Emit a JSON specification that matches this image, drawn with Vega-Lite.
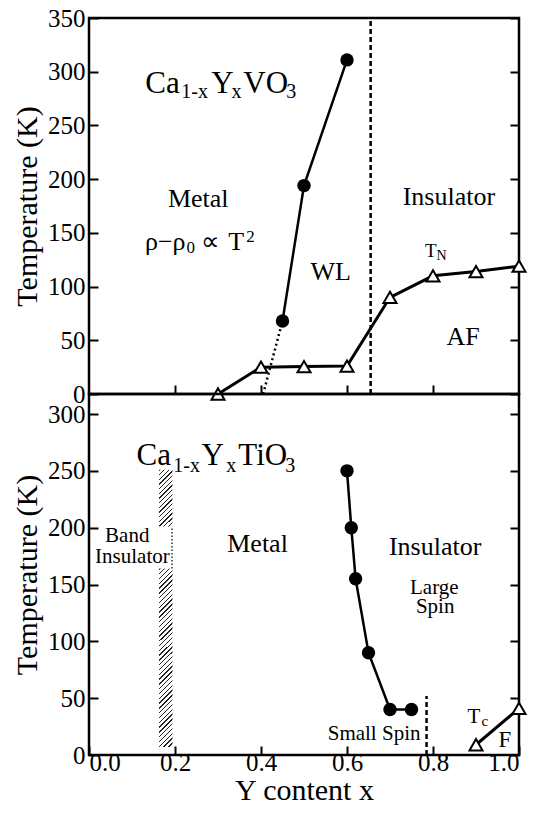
{
  "$schema": "https://vega.github.io/schema/vega-lite/v6.json",
  "padding": {"left": 11, "top": 4, "right": 5, "bottom": 5},
  "spacing": 0,
  "bounds": "flush",
  "config": {
    "font": "Liberation Serif",
    "view": {"stroke": "black", "strokeWidth": 2.5},
    "axis": {
      "labelFont": "Liberation Serif", "labelFontSize": 25, "labelColor": "black",
      "titleFont": "Liberation Serif", "titleFontSize": 30, "titleFontWeight": "normal", "titleColor": "black",
      "tickColor": "black", "tickWidth": 2, "domain": false
    },
    "text": {"font": "Liberation Serif", "color": "black"}
  },
  "vconcat": [
    {
      "width": 430, "height": 376,
      "encoding": {
        "x": {"field": "x", "type": "quantitative", "scale": {"domain": [0, 1], "nice": false},
              "axis": {"values": [0.2, 0.4, 0.6, 0.8], "labels": false, "title": null, "tickSize": -9, "grid": false}},
        "y": {"field": "T", "type": "quantitative", "scale": {"domain": [0, 350], "nice": false},
              "axis": {"values": [0, 50, 100, 150, 200, 250, 300, 350], "title": "Temperature (K)", "ticks": false,
                       "grid": true, "gridDash": [9, 412], "gridColor": "black", "gridWidth": 2, "gridOpacity": 1,
                       "labelPadding": 4, "titlePadding": 5}}
      },
      "layer": [
        {"data": {"values": [{"x": 0.655, "T": 0, "T2": 350}]},
         "mark": {"type": "rule", "strokeDash": [5, 3], "strokeWidth": 2.5, "color": "black"},
         "encoding": {"y2": {"field": "T2"}}},
        {"data": {"values": [{"x": 0.405, "T": 0}, {"x": 0.45, "T": 68}]},
         "mark": {"type": "line", "strokeDash": [2, 3], "strokeWidth": 2.5, "color": "black"}},
        {"data": {"values": [{"x": 0.45, "T": 68}, {"x": 0.5, "T": 194}, {"x": 0.6, "T": 311}]},
         "mark": {"type": "line", "strokeWidth": 2.5, "color": "black"}},
        {"data": {"values": [{"x": 0.45, "T": 68}, {"x": 0.5, "T": 194}, {"x": 0.6, "T": 311}]},
         "mark": {"type": "point", "shape": "circle", "filled": true, "size": 180, "color": "black", "opacity": 1}},
        {"data": {"values": [{"x": 0.3, "T": 0}, {"x": 0.4, "T": 25}, {"x": 0.5, "T": 25.5}, {"x": 0.6, "T": 26}, {"x": 0.7, "T": 90}, {"x": 0.8, "T": 110}, {"x": 0.9, "T": 114}, {"x": 1.0, "T": 119}]},
         "mark": {"type": "line", "strokeWidth": 3, "color": "black"}},
        {"data": {"values": [{"x": 0.3, "T": 0}, {"x": 0.4, "T": 25}, {"x": 0.5, "T": 25.5}, {"x": 0.6, "T": 26}, {"x": 0.7, "T": 90}, {"x": 0.8, "T": 110}, {"x": 0.9, "T": 114}, {"x": 1.0, "T": 119}]},
         "mark": {"type": "point", "shape": "triangle-up", "filled": true, "fill": "white", "stroke": "black", "strokeWidth": 2, "size": 170, "opacity": 1, "clip": false}},
        {"data": {"values": [{"x": 0.254, "T": 174, "text": "Metal"}, {"x": 0.562, "T": 106, "text": "WL"}, {"x": 0.837, "T": 176, "text": "Insulator"}, {"x": 0.870, "T": 46, "text": "AF"}]},
         "mark": {"type": "text", "align": "center", "baseline": "alphabetic", "fontSize": 26},
         "encoding": {"text": {"field": "text"}}},
        {"data": {"values": [{"x": 0.1309, "T": 280.2, "text": "Ca"}, {"x": 0.2844, "T": 280.2, "text": "Y"}, {"x": 0.3588, "T": 280.2, "text": "VO"}]},
         "mark": {"type": "text", "align": "left", "baseline": "alphabetic", "fontSize": 31},
         "encoding": {"text": {"field": "text"}}},
        {"data": {"values": [{"x": 0.2147, "T": 275.6, "text": "1-x"}, {"x": 0.3312, "T": 275.6, "text": "x"}, {"x": 0.4588, "T": 275.6, "text": "3"}]},
         "mark": {"type": "text", "align": "left", "baseline": "alphabetic", "fontSize": 20},
         "encoding": {"text": {"field": "text"}}},
        {"data": {"values": [{"x": 0.1302, "T": 133.9, "text": "ρ−ρ"}, {"x": 0.2612, "T": 133.9, "text": "∝"}, {"x": 0.324, "T": 133.9, "text": "T"}]},
         "mark": {"type": "text", "align": "left", "baseline": "alphabetic", "fontSize": 26},
         "encoding": {"text": {"field": "text"}}},
        {"data": {"values": [{"x": 0.227, "T": 130.8, "text": "0"}, {"x": 0.3658, "T": 141.6, "text": "2"}]},
         "mark": {"type": "text", "align": "left", "baseline": "alphabetic", "fontSize": 17},
         "encoding": {"text": {"field": "text"}}},
        {"data": {"values": [{"x": 0.7814, "T": 127.7, "text": "T"}]},
         "mark": {"type": "text", "align": "left", "baseline": "alphabetic", "fontSize": 19},
         "encoding": {"text": {"field": "text"}}},
        {"data": {"values": [{"x": 0.8084, "T": 124.6, "text": "N"}]},
         "mark": {"type": "text", "align": "left", "baseline": "alphabetic", "fontSize": 14},
         "encoding": {"text": {"field": "text"}}}
      ]
    },
    {
      "width": 430, "height": 361,
      "encoding": {
        "x": {"field": "x", "type": "quantitative", "scale": {"domain": [0, 1], "nice": false},
              "axis": {"values": [0, 0.2, 0.4, 0.6, 0.8, 1.0], "format": ".1f", "title": "Y content x", "tickSize": -9,
                       "labelPadding": 4, "titlePadding": 0, "grid": false}},
        "y": {"field": "T", "type": "quantitative", "scale": {"domain": [0, 317.6], "nice": false},
              "axis": {"values": [0, 50, 100, 150, 200, 250, 300], "title": "Temperature (K)", "ticks": false,
                       "grid": true, "gridDash": [9, 412], "gridColor": "black", "gridWidth": 2, "gridOpacity": 1,
                       "labelPadding": 4, "titlePadding": 5}}
      },
      "layer": [
        {"data": {"values": [{"x": 0.163, "x2": 0.194, "T": 7, "T2": 164}]},
         "mark": {"type": "rect", "fill": {"gradient": "linear", "x1": 0, "y1": 0, "x2": 0.0796, "y2": 1.0687, "stops": [
           {"offset": 0, "color": "#222"}, {"offset": 0.0073, "color": "#222"}, {"offset": 0.0073, "color": "white"}, {"offset": 0.025, "color": "white"},
           {"offset": 0.025, "color": "#222"}, {"offset": 0.0323, "color": "#222"}, {"offset": 0.0323, "color": "white"}, {"offset": 0.05, "color": "white"},
           {"offset": 0.05, "color": "#222"}, {"offset": 0.0573, "color": "#222"}, {"offset": 0.0573, "color": "white"}, {"offset": 0.075, "color": "white"},
           {"offset": 0.075, "color": "#222"}, {"offset": 0.0823, "color": "#222"}, {"offset": 0.0823, "color": "white"}, {"offset": 0.1, "color": "white"},
           {"offset": 0.1, "color": "#222"}, {"offset": 0.1073, "color": "#222"}, {"offset": 0.1073, "color": "white"}, {"offset": 0.125, "color": "white"},
           {"offset": 0.125, "color": "#222"}, {"offset": 0.1323, "color": "#222"}, {"offset": 0.1323, "color": "white"}, {"offset": 0.15, "color": "white"},
           {"offset": 0.15, "color": "#222"}, {"offset": 0.1573, "color": "#222"}, {"offset": 0.1573, "color": "white"}, {"offset": 0.175, "color": "white"},
           {"offset": 0.175, "color": "#222"}, {"offset": 0.1823, "color": "#222"}, {"offset": 0.1823, "color": "white"}, {"offset": 0.2, "color": "white"},
           {"offset": 0.2, "color": "#222"}, {"offset": 0.2073, "color": "#222"}, {"offset": 0.2073, "color": "white"}, {"offset": 0.225, "color": "white"},
           {"offset": 0.225, "color": "#222"}, {"offset": 0.2323, "color": "#222"}, {"offset": 0.2323, "color": "white"}, {"offset": 0.25, "color": "white"},
           {"offset": 0.25, "color": "#222"}, {"offset": 0.2573, "color": "#222"}, {"offset": 0.2573, "color": "white"}, {"offset": 0.275, "color": "white"},
           {"offset": 0.275, "color": "#222"}, {"offset": 0.2823, "color": "#222"}, {"offset": 0.2823, "color": "white"}, {"offset": 0.3, "color": "white"},
           {"offset": 0.3, "color": "#222"}, {"offset": 0.3073, "color": "#222"}, {"offset": 0.3073, "color": "white"}, {"offset": 0.325, "color": "white"},
           {"offset": 0.325, "color": "#222"}, {"offset": 0.3323, "color": "#222"}, {"offset": 0.3323, "color": "white"}, {"offset": 0.35, "color": "white"},
           {"offset": 0.35, "color": "#222"}, {"offset": 0.3573, "color": "#222"}, {"offset": 0.3573, "color": "white"}, {"offset": 0.375, "color": "white"},
           {"offset": 0.375, "color": "#222"}, {"offset": 0.3823, "color": "#222"}, {"offset": 0.3823, "color": "white"}, {"offset": 0.4, "color": "white"},
           {"offset": 0.4, "color": "#222"}, {"offset": 0.4073, "color": "#222"}, {"offset": 0.4073, "color": "white"}, {"offset": 0.425, "color": "white"},
           {"offset": 0.425, "color": "#222"}, {"offset": 0.4323, "color": "#222"}, {"offset": 0.4323, "color": "white"}, {"offset": 0.45, "color": "white"},
           {"offset": 0.45, "color": "#222"}, {"offset": 0.4573, "color": "#222"}, {"offset": 0.4573, "color": "white"}, {"offset": 0.475, "color": "white"},
           {"offset": 0.475, "color": "#222"}, {"offset": 0.4823, "color": "#222"}, {"offset": 0.4823, "color": "white"}, {"offset": 0.5, "color": "white"},
           {"offset": 0.5, "color": "#222"}, {"offset": 0.5073, "color": "#222"}, {"offset": 0.5073, "color": "white"}, {"offset": 0.525, "color": "white"},
           {"offset": 0.525, "color": "#222"}, {"offset": 0.5323, "color": "#222"}, {"offset": 0.5323, "color": "white"}, {"offset": 0.55, "color": "white"},
           {"offset": 0.55, "color": "#222"}, {"offset": 0.5573, "color": "#222"}, {"offset": 0.5573, "color": "white"}, {"offset": 0.575, "color": "white"},
           {"offset": 0.575, "color": "#222"}, {"offset": 0.5823, "color": "#222"}, {"offset": 0.5823, "color": "white"}, {"offset": 0.6, "color": "white"},
           {"offset": 0.6, "color": "#222"}, {"offset": 0.6073, "color": "#222"}, {"offset": 0.6073, "color": "white"}, {"offset": 0.625, "color": "white"},
           {"offset": 0.625, "color": "#222"}, {"offset": 0.6323, "color": "#222"}, {"offset": 0.6323, "color": "white"}, {"offset": 0.65, "color": "white"},
           {"offset": 0.65, "color": "#222"}, {"offset": 0.6573, "color": "#222"}, {"offset": 0.6573, "color": "white"}, {"offset": 0.675, "color": "white"},
           {"offset": 0.675, "color": "#222"}, {"offset": 0.6823, "color": "#222"}, {"offset": 0.6823, "color": "white"}, {"offset": 0.7, "color": "white"},
           {"offset": 0.7, "color": "#222"}, {"offset": 0.7073, "color": "#222"}, {"offset": 0.7073, "color": "white"}, {"offset": 0.725, "color": "white"},
           {"offset": 0.725, "color": "#222"}, {"offset": 0.7323, "color": "#222"}, {"offset": 0.7323, "color": "white"}, {"offset": 0.75, "color": "white"},
           {"offset": 0.75, "color": "#222"}, {"offset": 0.7573, "color": "#222"}, {"offset": 0.7573, "color": "white"}, {"offset": 0.775, "color": "white"},
           {"offset": 0.775, "color": "#222"}, {"offset": 0.7823, "color": "#222"}, {"offset": 0.7823, "color": "white"}, {"offset": 0.8, "color": "white"},
           {"offset": 0.8, "color": "#222"}, {"offset": 0.8073, "color": "#222"}, {"offset": 0.8073, "color": "white"}, {"offset": 0.825, "color": "white"},
           {"offset": 0.825, "color": "#222"}, {"offset": 0.8323, "color": "#222"}, {"offset": 0.8323, "color": "white"}, {"offset": 0.85, "color": "white"},
           {"offset": 0.85, "color": "#222"}, {"offset": 0.8573, "color": "#222"}, {"offset": 0.8573, "color": "white"}, {"offset": 0.875, "color": "white"},
           {"offset": 0.875, "color": "#222"}, {"offset": 0.8823, "color": "#222"}, {"offset": 0.8823, "color": "white"}, {"offset": 0.9, "color": "white"},
           {"offset": 0.9, "color": "#222"}, {"offset": 0.9073, "color": "#222"}, {"offset": 0.9073, "color": "white"}, {"offset": 0.925, "color": "white"},
           {"offset": 0.925, "color": "#222"}, {"offset": 0.9323, "color": "#222"}, {"offset": 0.9323, "color": "white"}, {"offset": 0.95, "color": "white"},
           {"offset": 0.95, "color": "#222"}, {"offset": 0.9573, "color": "#222"}, {"offset": 0.9573, "color": "white"}, {"offset": 0.975, "color": "white"},
           {"offset": 0.975, "color": "#222"}, {"offset": 0.9823, "color": "#222"}, {"offset": 0.9823, "color": "white"}, {"offset": 1, "color": "white"}
         ]}},
         "encoding": {"x2": {"field": "x2"}, "y2": {"field": "T2"}}},
        {"data": {"values": [{"x": 0.163, "x2": 0.194, "T": 201, "T2": 251}]},
         "mark": {"type": "rect", "fill": {"gradient": "linear", "x1": 0, "y1": 0, "x2": 0.274, "y2": 1.17, "stops": [
           {"offset": 0, "color": "#222"}, {"offset": 0.02, "color": "#222"}, {"offset": 0.02, "color": "white"}, {"offset": 0.0667, "color": "white"},
           {"offset": 0.0667, "color": "#222"}, {"offset": 0.0867, "color": "#222"}, {"offset": 0.0867, "color": "white"}, {"offset": 0.1333, "color": "white"},
           {"offset": 0.1333, "color": "#222"}, {"offset": 0.1533, "color": "#222"}, {"offset": 0.1533, "color": "white"}, {"offset": 0.2, "color": "white"},
           {"offset": 0.2, "color": "#222"}, {"offset": 0.22, "color": "#222"}, {"offset": 0.22, "color": "white"}, {"offset": 0.2667, "color": "white"},
           {"offset": 0.2667, "color": "#222"}, {"offset": 0.2867, "color": "#222"}, {"offset": 0.2867, "color": "white"}, {"offset": 0.3333, "color": "white"},
           {"offset": 0.3333, "color": "#222"}, {"offset": 0.3533, "color": "#222"}, {"offset": 0.3533, "color": "white"}, {"offset": 0.4, "color": "white"},
           {"offset": 0.4, "color": "#222"}, {"offset": 0.42, "color": "#222"}, {"offset": 0.42, "color": "white"}, {"offset": 0.4667, "color": "white"},
           {"offset": 0.4667, "color": "#222"}, {"offset": 0.4867, "color": "#222"}, {"offset": 0.4867, "color": "white"}, {"offset": 0.5333, "color": "white"},
           {"offset": 0.5333, "color": "#222"}, {"offset": 0.5533, "color": "#222"}, {"offset": 0.5533, "color": "white"}, {"offset": 0.6, "color": "white"},
           {"offset": 0.6, "color": "#222"}, {"offset": 0.62, "color": "#222"}, {"offset": 0.62, "color": "white"}, {"offset": 0.6667, "color": "white"},
           {"offset": 0.6667, "color": "#222"}, {"offset": 0.6867, "color": "#222"}, {"offset": 0.6867, "color": "white"}, {"offset": 0.7333, "color": "white"},
           {"offset": 0.7333, "color": "#222"}, {"offset": 0.7533, "color": "#222"}, {"offset": 0.7533, "color": "white"}, {"offset": 0.8, "color": "white"},
           {"offset": 0.8, "color": "#222"}, {"offset": 0.82, "color": "#222"}, {"offset": 0.82, "color": "white"}, {"offset": 0.8667, "color": "white"},
           {"offset": 0.8667, "color": "#222"}, {"offset": 0.8867, "color": "#222"}, {"offset": 0.8867, "color": "white"}, {"offset": 0.9333, "color": "white"},
           {"offset": 0.9333, "color": "#222"}, {"offset": 0.9533, "color": "#222"}, {"offset": 0.9533, "color": "white"}, {"offset": 1, "color": "white"}
         ]}},
         "encoding": {"x2": {"field": "x2"}, "y2": {"field": "T2"}}},
        {"data": {"values": [{"x": 0.193, "T": 164, "T2": 201}]},
         "mark": {"type": "rule", "strokeDash": [1.5, 2], "strokeWidth": 1.2, "color": "black"},
         "encoding": {"y2": {"field": "T2"}}},
        {"data": {"values": [{"x": 0.785, "T": 0, "T2": 52}]},
         "mark": {"type": "rule", "strokeDash": [5, 3], "strokeWidth": 2.5, "color": "black"},
         "encoding": {"y2": {"field": "T2"}}},
        {"data": {"values": [{"x": 0.6, "T": 250}, {"x": 0.61, "T": 200}, {"x": 0.62, "T": 155}, {"x": 0.65, "T": 90}, {"x": 0.7, "T": 40}, {"x": 0.75, "T": 40}]},
         "mark": {"type": "line", "strokeWidth": 2.5, "color": "black"}},
        {"data": {"values": [{"x": 0.6, "T": 250}, {"x": 0.61, "T": 200}, {"x": 0.62, "T": 155}, {"x": 0.65, "T": 90}, {"x": 0.7, "T": 40}, {"x": 0.75, "T": 40}]},
         "mark": {"type": "point", "shape": "circle", "filled": true, "size": 180, "color": "black", "opacity": 1}},
        {"data": {"values": [{"x": 0.9, "T": 9}, {"x": 1.0, "T": 41}]},
         "mark": {"type": "line", "strokeWidth": 3, "color": "black"}},
        {"data": {"values": [{"x": 0.9, "T": 9}, {"x": 1.0, "T": 41}]},
         "mark": {"type": "point", "shape": "triangle-up", "filled": true, "fill": "white", "stroke": "black", "strokeWidth": 2, "size": 170, "opacity": 1, "clip": false}},
        {"data": {"values": [{"x": 0.392, "T": 178.8, "text": "Metal"}, {"x": 0.805, "T": 176, "text": "Insulator"}]},
         "mark": {"type": "text", "align": "center", "baseline": "alphabetic", "fontSize": 26},
         "encoding": {"text": {"field": "text"}}},
        {"data": {"values": [{"x": 0.089, "T": 187.6, "text": "Band"}, {"x": 0.101, "T": 168.6, "text": "Insulator"}, {"x": 0.803, "T": 142, "text": "Large"}, {"x": 0.805, "T": 124.6, "text": "Spin"}, {"x": 0.663, "T": 13.2, "text": "Small Spin"}]},
         "mark": {"type": "text", "align": "center", "baseline": "alphabetic", "fontSize": 21},
         "encoding": {"text": {"field": "text"}}},
        {"data": {"values": [{"x": 0.967, "T": 7.3, "text": "F"}]},
         "mark": {"type": "text", "align": "center", "baseline": "alphabetic", "fontSize": 23},
         "encoding": {"text": {"field": "text"}}},
        {"data": {"values": [{"x": 0.880, "T": 27.8, "text": "T"}]},
         "mark": {"type": "text", "align": "left", "baseline": "alphabetic", "fontSize": 21},
         "encoding": {"text": {"field": "text"}}},
        {"data": {"values": [{"x": 0.913, "T": 25.5, "text": "c"}]},
         "mark": {"type": "text", "align": "left", "baseline": "alphabetic", "fontSize": 15},
         "encoding": {"text": {"field": "text"}}},
        {"data": {"values": [{"x": 0.1107, "T": 255.1, "text": "Ca"}, {"x": 0.2619, "T": 255.1, "text": "Y"}, {"x": 0.3472, "T": 255.1, "text": "TiO"}]},
         "mark": {"type": "text", "align": "left", "baseline": "alphabetic", "fontSize": 31},
         "encoding": {"text": {"field": "text"}}},
        {"data": {"values": [{"x": 0.196, "T": 249.2, "text": "1-x"}, {"x": 0.3193, "T": 249.2, "text": "x"}, {"x": 0.4565, "T": 249.2, "text": "3"}]},
         "mark": {"type": "text", "align": "left", "baseline": "alphabetic", "fontSize": 20},
         "encoding": {"text": {"field": "text"}}}
      ]
    }
  ]
}
